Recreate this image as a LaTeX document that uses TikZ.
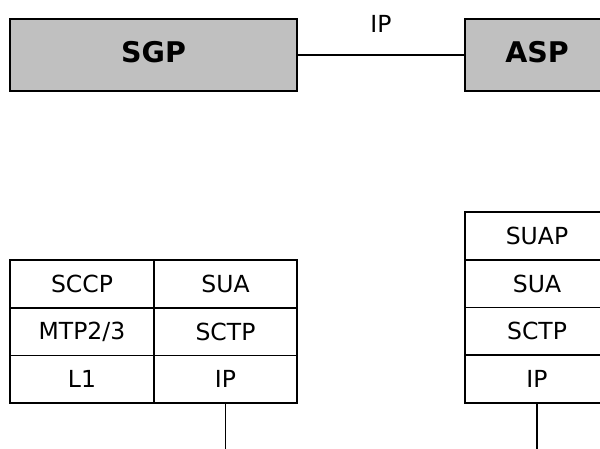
\documentclass[tikz,border=0pt]{standalone}
\usepackage{fontspec}
\setmainfont{DejaVu Sans}
\usepackage{xcolor}
\usetikzlibrary{positioning}
\definecolor{boxgrey}{HTML}{C0C0C0}

\begin{document}
\begin{tikzpicture}[
  x=1pt,y=-1pt,
  every node/.style={font=\fontsize{23.5}{28}\selectfont},
  hostbox/.style={rectangle,draw=black,fill=boxgrey,line width=1.8pt,outer sep=0pt,minimum width=287pt,minimum height=72pt,inner sep=0pt,font=\fontsize{28.5}{34}\selectfont\bfseries},
  cell/.style={rectangle,draw=black,line width=1.8pt,outer sep=0pt,minimum width=144pt,minimum height=47.7pt,inner sep=0pt},
  link/.style={line width=1.8pt}
]
\useasboundingbox (0,0) rectangle (600,448);

% hosts
\node[hostbox,anchor=north west] (sgp) at (10,19) {\raisebox{6pt}{SGP}};
\node[hostbox,anchor=north west,minimum width=144pt] (asp) at (465,19) {\raisebox{6pt}{ASP}};
\draw[link] (sgp) -- node[above=18pt] (iplabel) {IP} (asp);

% SGP stack
\node[cell,anchor=north west,minimum width=144pt] (sccp) at (10,260) {SCCP};
\node[cell,below=0pt of sccp] (mtp) {MTP2/3};
\node[cell,below=0pt of mtp] (l1) {L1};
\node[cell,right=0pt of sccp,minimum width=143pt] (sgpsua) {SUA};
\node[cell,below=0pt of sgpsua,minimum width=143pt] (sgpsctp) {SCTP};
\node[cell,below=0pt of sgpsctp,minimum width=143pt] (sgpip) {IP};

% ASP stack
\node[cell,anchor=north west] (suap) at (465,212) {SUAP};
\node[cell,below=0pt of suap] (aspsua) {SUA};
\node[cell,below=0pt of aspsua] (aspsctp) {SCTP};
\node[cell,below=0pt of aspsctp] (aspip) {IP};

% links to the network below
\coordinate (sgpend) at (sgpip.south |- 0,452);
\coordinate (aspend) at (aspip.south |- 0,452);
\draw[link] (sgpip) -- (sgpend);
\draw[link] (aspip) -- (aspend);
\end{tikzpicture}
\end{document}
